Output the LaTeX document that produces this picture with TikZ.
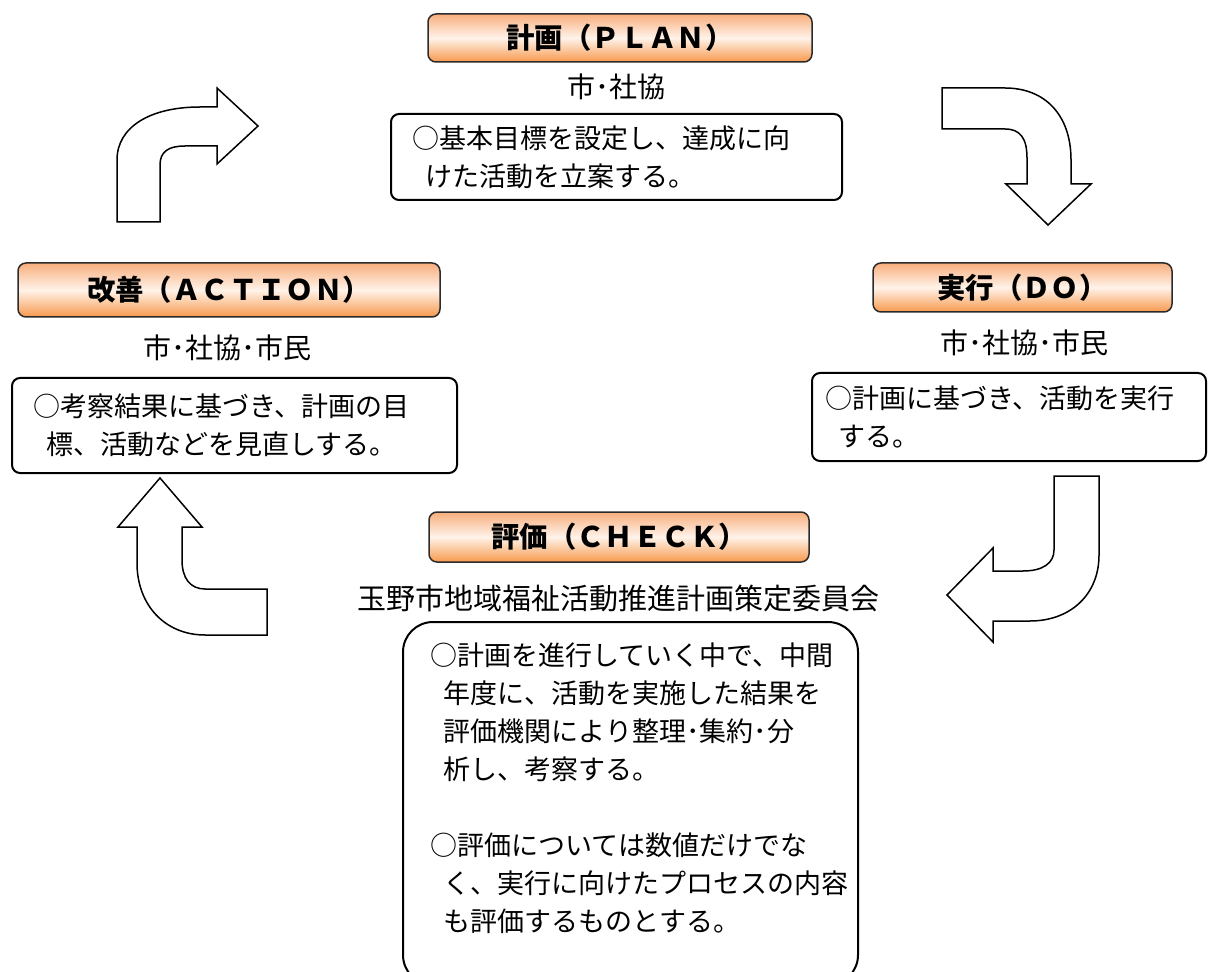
\documentclass[tikz,border=0pt]{standalone}
\usepackage{fontspec}
\setmainfont{Noto Sans CJK JP}
\usepackage{tikz}
\definecolor{titletop}{HTML}{F8AE7C}
\definecolor{titlemid}{HTML}{FFF3EA}
\definecolor{titlebot}{HTML}{F7994C}
\definecolor{rimx}{HTML}{2B2B2B}
\tikzset{
  ttl/.style={draw=rimx,line width=0.75pt,rounded corners=4pt,top color=titletop,bottom color=titlebot,middle color=titlemid,inner sep=0pt,font=\fontsize{14.2}{16}\selectfont\bfseries},
  org/.style={inner sep=0pt,font=\fontsize{14}{16}\selectfont},
  body/.style={align=left,inner sep=0pt,font=\fontsize{13.5}{19}\selectfont},
  txt/.style={body,draw,line width=1pt,rounded corners=4pt},
  blk/.style={draw,line width=0.75pt,fill=white,line join=miter}
}
\begin{document}
\begin{tikzpicture}[x=0.5pt,y=-0.5pt]
\useasboundingbox (0,0) rectangle (1213,972);
% titles
\node[ttl,minimum width=192pt,minimum height=24pt] (plan) at (620,38) {計画（ＰＬＡＮ）};
\node[ttl,minimum width=211pt,minimum height=27pt] (action) at (229,290) {改善（ＡＣＴＩＯＮ）};
\node[ttl,minimum width=149.5pt,minimum height=24.5pt] (do) at (1022.5,287.5) {実行（ＤＯ）};
\node[ttl,minimum width=190pt,minimum height=25pt] (check) at (619,537) {評価（ＣＨＥＣＫ）};
% who
\node[org] (planorg) at (616,87) {市･社協};
\node[org] (actionorg) at (227,348) {市･社協･市民};
\node[org] (doorg) at (1024,343) {市･社協･市民};
\node[org,font=\fontsize{14.5}{16}\selectfont] (checkorg) at (618,598) {玉野市地域福祉活動推進計画策定委員会};
% boxes
\node[txt,minimum width=225.5pt,minimum height=43pt,text width=204.5pt] (plantxt) at (616.5,157)
  {○基本目標を設定し、達成に向\\\hspace*{0.5em}けた活動を立案する。};
\node[txt,minimum width=222.5pt,minimum height=47.5pt,text width=201.5pt] (actiontxt) at (234.5,425.5)
  {○考察結果に基づき、計画の目\\\hspace*{0.5em}標、活動などを見直しする。};
\node[txt,minimum width=197pt,minimum height=44pt,text width=184pt] (dotxt) at (1009,417)
  {○計画に基づき、活動を実行\\\hspace*{0.5em}する。};
\node[txt,rounded corners=15pt,minimum width=227.5pt,minimum height=181.5pt] (checkbox) at (630.5,803.5) {};
\node[body,anchor=west] (checktxt) at (430,788)
  {○計画を進行していく中で、中間\\\hspace*{0.5em}年度に、活動を実施した結果を\\\hspace*{0.5em}評価機関により整理･集約･分\\\hspace*{0.5em}析し、考察する。\\[19pt]○評価については数値だけでな\\\hspace*{0.5em}く、実行に向けたプロセスの内容\\\hspace*{0.5em}も評価するものとする。};
% cycle arrows
\draw[blk] (117,222) -- (117,160) .. controls (117,127) and (150,107) .. (200,107) -- (217,107) -- (217,88) -- (258,126)
  -- (217,164) -- (217,146) -- (185,146) .. controls (168,146) and (160,152) .. (160,165) -- (160,222) -- cycle;
\draw[blk] (942,88) -- (1005,88) .. controls (1045,88) and (1071,115) .. (1071,160) -- (1071,184) -- (1091,184) -- (1048,225)
  -- (1006,184) -- (1027,184) -- (1027,158) .. controls (1027,138) and (1020,129) .. (1005,129) -- (942,129) -- cycle;
\draw[blk] (1054,476) -- (1099,476) -- (1099,555) .. controls (1099,595) and (1070,621) .. (1030,621) -- (993,621) -- (993,642)
  -- (947,595) -- (993,548) -- (993,571) -- (1023,571) .. controls (1043,571) and (1054,563) .. (1054,550) -- cycle;
\draw[blk] (160,478) -- (202,527) -- (182,527) -- (182,560) .. controls (182,578) and (190,589) .. (205,589) -- (267,589)
  -- (267,635) -- (205,635) .. controls (165,635) and (137,605) .. (137,563) -- (137,527) -- (118,527) -- cycle;
\end{tikzpicture}
\end{document}
